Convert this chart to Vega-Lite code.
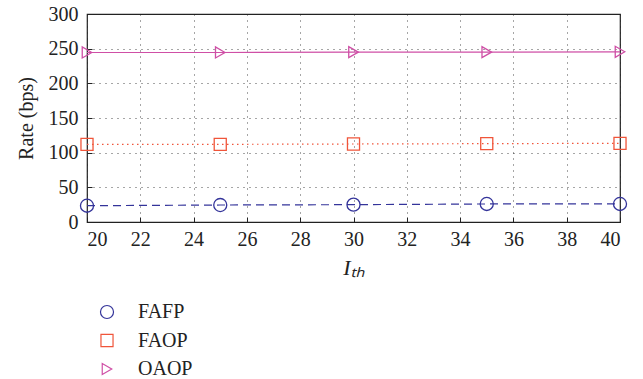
{
  "$schema": "https://vega.github.io/schema/vega-lite/v6.json",
  "width": 533,
  "height": 208,
  "autosize": "none",
  "padding": {"left": 87, "top": 14, "right": 23, "bottom": 157},
  "background": "white",
  "config": {
    "view": {"stroke": "#222", "strokeWidth": 1.2},
    "font": "Liberation Serif",
    "axis": {
      "grid": true, "gridColor": "#222", "gridDash": [1, 5], "gridOpacity": 0.8, "gridWidth": 1,
      "tickSize": -5, "tickColor": "#222", "domain": false
    }
  },
  "data": {"values": [
    {"Ith": 20, "rate": 23.5, "series": "FAFP"},
    {"Ith": 25, "rate": 24.5, "series": "FAFP"},
    {"Ith": 30, "rate": 25, "series": "FAFP"},
    {"Ith": 35, "rate": 26, "series": "FAFP"},
    {"Ith": 40, "rate": 26, "series": "FAFP"},
    {"Ith": 20, "rate": 112, "series": "FAOP"},
    {"Ith": 25, "rate": 112, "series": "FAOP"},
    {"Ith": 30, "rate": 112.5, "series": "FAOP"},
    {"Ith": 35, "rate": 113, "series": "FAOP"},
    {"Ith": 40, "rate": 113.5, "series": "FAOP"},
    {"Ith": 20, "rate": 244.5, "series": "OAOP"},
    {"Ith": 25, "rate": 244.5, "series": "OAOP"},
    {"Ith": 30, "rate": 245, "series": "OAOP"},
    {"Ith": 35, "rate": 245, "series": "OAOP"},
    {"Ith": 40, "rate": 245.5, "series": "OAOP"}
  ]},
  "encoding": {
    "x": {"field": "Ith", "type": "quantitative", "scale": {"domain": [20, 40], "nice": false},
      "axis": {"values": [20,22,24,26,28,30,32,34,36,38,40], "title": "Iₜₕ", "titleFontStyle": "italic", "titleFontSize": 22, "titlePadding": 8,
        "labelFont": "Liberation Serif", "labelFontSize": 20, "labelColor": "#222", "labelPadding": 12,
        "titleFont": "Liberation Serif", "titleColor": "#222", "titleFontWeight": "normal"}},
    "y": {"field": "rate", "type": "quantitative", "scale": {"domain": [0, 300], "nice": false},
      "axis": {"values": [0,50,100,150,200,250,300], "title": "Rate (bps)", "titlePadding": 12,
        "labelFont": "Liberation Serif", "labelFontSize": 20, "labelColor": "#222", "labelPadding": 14,
        "titleFont": "Liberation Serif", "titleFontSize": 20, "titleColor": "#222", "titleFontWeight": "normal"}},
    "color": {"field": "series", "type": "nominal",
      "scale": {"domain": ["FAFP", "FAOP", "OAOP"], "range": ["#34349a", "#f0553a", "#cf4fa6"]},
      "legend": {
        "orient": "none", "legendX": 10, "legendY": 288, "title": null, "padding": 0,
        "symbolSize": 144, "labelOffset": 21, "labelFontSize": 20, "labelFont": "Liberation Serif", "labelColor": "#222",
        "rowPadding": 8.5, "symbolStrokeWidth": 1.2, "symbolFillColor": "transparent"
      }
    }
  },
  "layer": [
    {
      "transform": [{"filter": "datum.series === 'FAFP'"}],
      "mark": {"type": "line", "strokeWidth": 1.2, "strokeDash": [8, 5]}
    },
    {
      "transform": [{"filter": "datum.series === 'FAOP'"}],
      "mark": {"type": "line", "strokeWidth": 1.2, "strokeDash": [1.5, 3.5]}
    },
    {
      "transform": [{"filter": "datum.series === 'OAOP'"}],
      "mark": {"type": "line", "strokeWidth": 1.2}
    },
    {
      "mark": {"type": "point", "filled": false, "strokeWidth": 1.3, "opacity": 1},
      "encoding": {
        "shape": {"field": "series", "type": "nominal",
          "scale": {"domain": ["FAFP", "FAOP", "OAOP"], "range": ["circle", "square", "triangle-right"]}},
        "size": {"field": "series", "type": "nominal",
          "scale": {"domain": ["FAFP", "FAOP", "OAOP"], "range": [170, 121, 260]}, "legend": null}
      }
    }
  ]
}
